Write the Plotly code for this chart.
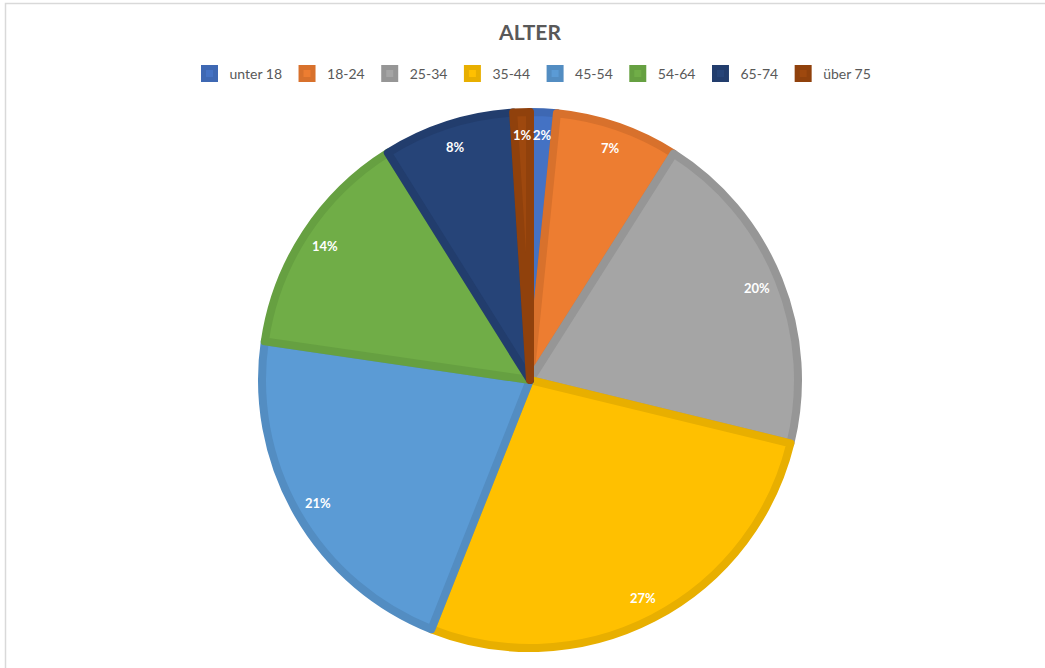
import math
import plotly.graph_objects as go

categories = ["unter 18", "18-24", "25-34", "35-44", "45-54", "54-64", "65-74", "über 75"]
values = [1.6, 7.4, 19.8, 27.2, 21.3, 13.8, 7.9, 1.0]
fill_colors = ["#4472C4", "#ED7D31", "#A5A5A5", "#FFC000", "#5B9BD5", "#70AD47", "#264478", "#9E480E"]
line_colors = ["#3E68B3", "#D8712C", "#969696", "#E8AF00", "#538DC2", "#66A041", "#223D6D", "#90410C"]
title_text = "ALTER"

W, H = 1045, 668
CX, CY, R = 530, 380, 268

fig = go.Figure()
fig.add_trace(go.Pie(
    labels=categories,
    values=values,
    sort=False,
    direction="clockwise",
    rotation=0,
    textinfo="none",
    hoverinfo="label+percent",
    marker=dict(colors=fill_colors, line=dict(color=line_colors, width=8)),
    domain=dict(x=[(CX - R) / W, (CX + R) / W], y=[(H - CY - R) / H, (H - CY + R) / H]),
))

# percentage labels near the outer edge, positioned from the data
total = sum(values)
cum = 0.0
annotations = []
for v in values:
    mid = (cum + v / 2) / total
    cum += v
    ang = 2 * math.pi * mid
    r = 245
    px = CX + r * math.sin(ang)
    py = CY - r * math.cos(ang)
    annotations.append(dict(
        x=px / W, y=(H - py) / H, xref="paper", yref="paper",
        text=f"{round(100 * v / total)}%", showarrow=False,
        font=dict(family="Lato", size=13, color="white", weight="bold"),
        xanchor="center", yanchor="middle",
    ))

fig.update_layout(
    width=W, height=H,
    margin=dict(l=0, r=0, t=0, b=0),
    paper_bgcolor="white",
    plot_bgcolor="white",
    title=dict(text=f"<b>{title_text}</b>", x=CX / W, xanchor="center", y=(H - 33) / H, yanchor="middle",
               font=dict(family="Lato", size=21, color="#595959")),
    showlegend=True,
    legend=dict(orientation="h", x=533 / W, xanchor="center", y=(H - 74) / H, yanchor="middle",
                font=dict(family="Lato", size=14, color="#595959"), itemwidth=30,
                traceorder="normal"),
    annotations=annotations,
    shapes=[dict(type="rect", xref="paper", yref="paper", x0=5.5 / W, x1=1.05, y0=-0.05,
                 y1=(H - 3.5) / H,
                 line=dict(color="#D9D9D9", width=1.5), layer="below")],
)

fig.write_html("out.html", config={"displayModeBar": False},
               post_script="document.body.style.margin='0';document.body.style.overflow='hidden';")
